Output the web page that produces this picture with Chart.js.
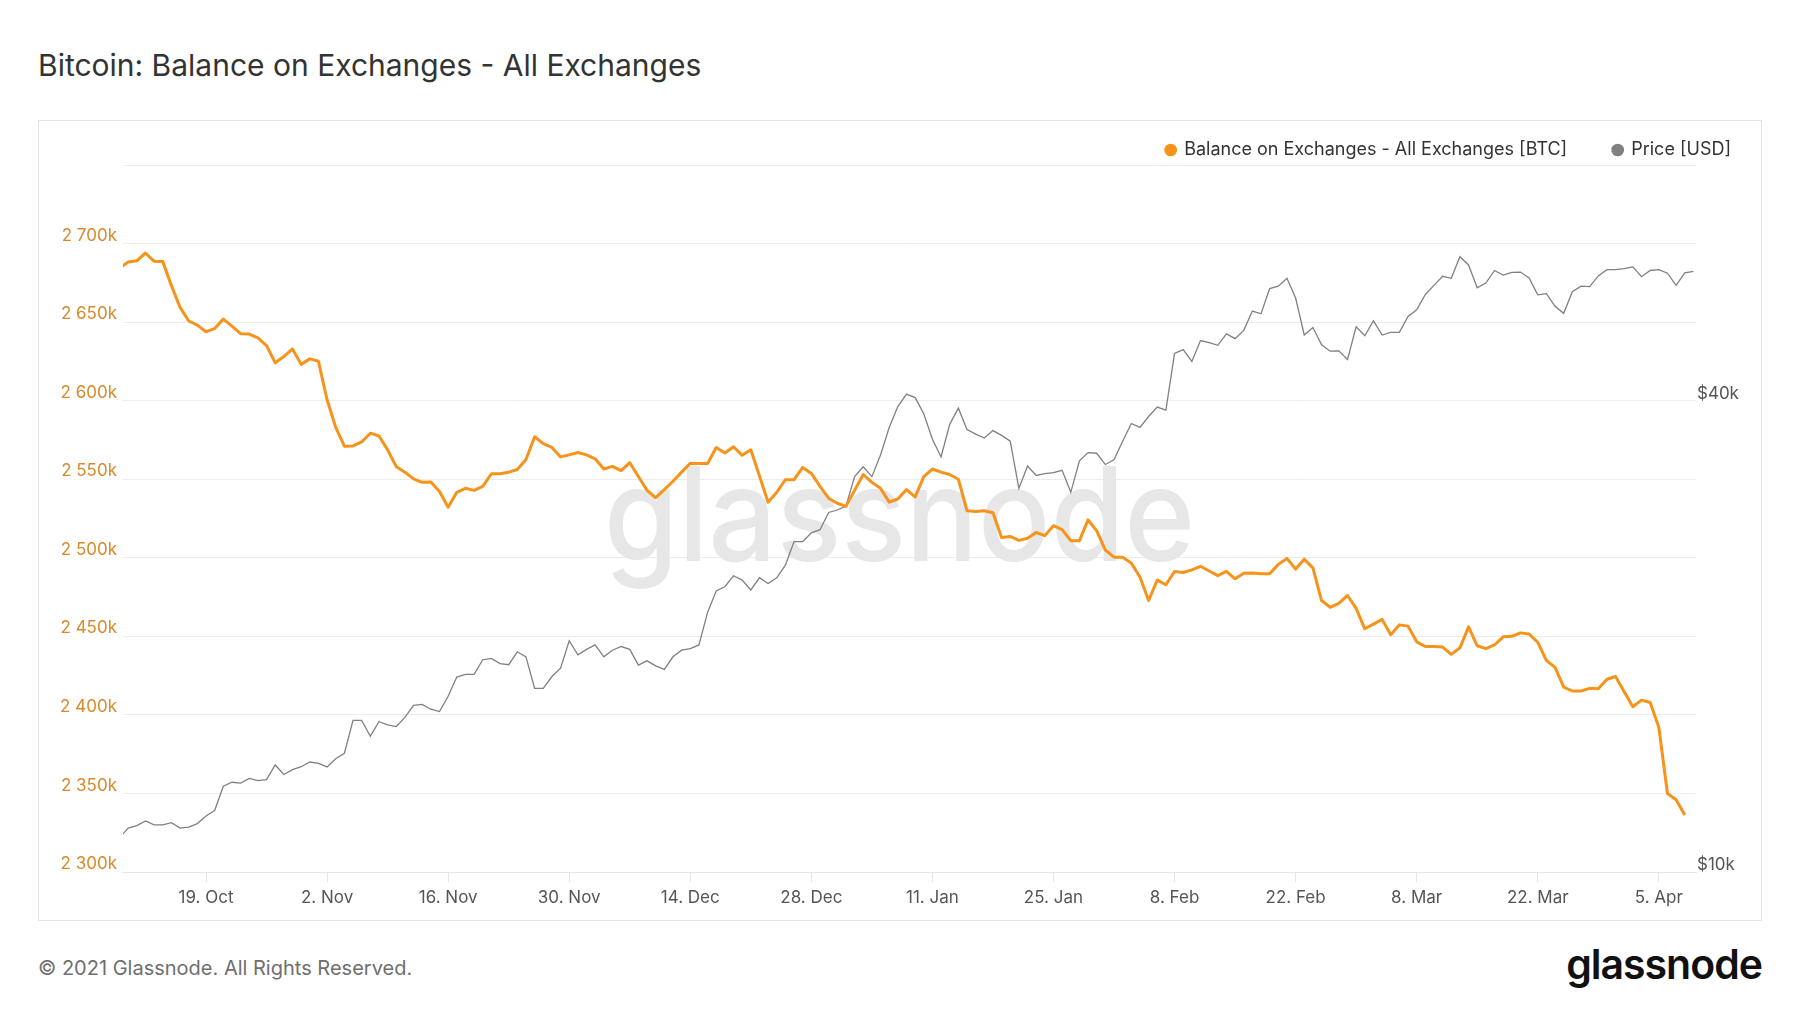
<!DOCTYPE html>
<html>
<head>
<meta charset="utf-8">
<title>Bitcoin: Balance on Exchanges - All Exchanges</title>
<script src="https://cdn.jsdelivr.net/npm/chart.js@4.4.1/dist/chart.umd.min.js"></script>
<style>
  html, body { margin: 0; padding: 0; background: #fff; }
  body { width: 1800px; height: 1013px; position: relative; overflow: hidden; font-family: Inter, 'Noto Sans', sans-serif; }
  #title { position: absolute; left: 38px; top: 46px; font-size: 30px; line-height: 38px; color: #333; }
  #frame { position: absolute; left: 38px; top: 120px; width: 1722px; height: 799px; border: 1px solid #e6e6e6; }
  #wrap { position: absolute; left: 38px; top: 60px; width: 1762px; height: 861px; }
  #footer { position: absolute; left: 38px; top: 956px; font-size: 20px; line-height: 24px; color: #6f6f6f; }
  #logo { position: absolute; right: 38px; top: 944px; font-size: 41px; line-height: 41px; font-weight: 600; color: #111; letter-spacing: -1px; }
</style>
</head>
<body>
<div id="title">Bitcoin: Balance on Exchanges - All Exchanges</div>
<div id="frame"></div>
<div id="wrap"><canvas id="balanceChart" width="1762" height="861"></canvas></div>
<div id="footer">© 2021 Glassnode. All Rights Reserved.</div>
<div id="logo">glassnode</div>

<script>
// Daily values, day 0 = 9 Oct 2020
// Balance on exchanges, thousands of BTC (ends 8 Apr 2021)
const balance = [
  2684.5, 2688.2, 2689.0, 2694.0, 2688.7, 2688.5, 2673.2, 2659.4, 2650.7, 2648.1,
  2643.9, 2645.9, 2651.9, 2647.4, 2642.6, 2642.4, 2639.9, 2635.1, 2624.1, 2628.1,
  2632.9, 2623.1, 2626.6, 2625.1, 2600.6, 2583.0, 2571.0, 2571.2, 2573.7, 2579.3,
  2577.5, 2568.7, 2558.0, 2554.5, 2550.2, 2548.0, 2548.2, 2542.2, 2532.2, 2541.7,
  2544.2, 2542.9, 2545.4, 2553.5, 2553.5, 2554.5, 2556.2, 2562.5, 2577.0, 2572.7,
  2570.2, 2564.2, 2565.5, 2567.0, 2565.5, 2563.0, 2556.5, 2558.2, 2555.5, 2560.5,
  2551.7, 2542.9, 2538.2, 2543.4, 2548.7, 2554.5, 2560.2, 2560.0, 2560.0, 2570.2,
  2566.7, 2570.7, 2565.2, 2568.7, 2552.0, 2535.4, 2541.7, 2549.7, 2549.7, 2557.5,
  2553.7, 2545.4, 2537.9, 2534.7, 2532.7, 2542.9, 2553.0, 2548.0, 2544.2, 2535.4,
  2537.4, 2543.4, 2538.7, 2551.7, 2556.5, 2554.5, 2553.0, 2550.0, 2529.9, 2529.4,
  2529.9, 2528.7, 2512.9, 2513.6, 2511.1, 2512.4, 2516.1, 2514.1, 2520.4, 2517.9,
  2510.9, 2510.9, 2524.1, 2517.1, 2504.9, 2500.4, 2500.4, 2496.6, 2487.8, 2472.8,
  2485.8, 2482.8, 2491.3, 2490.6, 2492.3, 2494.6, 2491.6, 2488.6, 2491.3, 2486.6,
  2490.1, 2490.3, 2489.8, 2489.8, 2495.8, 2499.6, 2492.8, 2499.1, 2493.6, 2472.8,
  2468.5, 2471.0, 2476.0, 2467.8, 2454.8, 2457.8, 2460.8, 2451.0, 2457.3, 2456.5,
  2446.5, 2443.5, 2443.5, 2443.2, 2438.5, 2442.7, 2456.0, 2444.0, 2442.2, 2444.5,
  2449.7, 2450.0, 2452.2, 2451.5, 2446.2, 2434.7, 2430.2, 2417.7, 2415.2, 2415.2,
  2416.9, 2416.7, 2422.7, 2424.4, 2414.7, 2405.2, 2409.4, 2407.9, 2392.1, 2350.0,
  2346.0, 2336.3
];

// BTC price, thousands of USD (ends 9 Apr 2021)
const price = [
  11.06, 11.38, 11.46, 11.62, 11.49, 11.49, 11.56, 11.38, 11.41, 11.53,
  11.79, 11.98, 12.87, 13.02, 12.99, 13.17, 13.08, 13.12, 13.70, 13.32,
  13.51, 13.63, 13.82, 13.76, 13.62, 13.95, 14.18, 15.62, 15.62, 14.91,
  15.56, 15.41, 15.34, 15.76, 16.33, 16.37, 16.14, 16.03, 16.77, 17.74,
  17.88, 17.88, 18.67, 18.74, 18.46, 18.40, 19.11, 18.83, 17.16, 17.16,
  17.77, 18.21, 19.74, 18.94, 19.25, 19.50, 18.83, 19.20, 19.41, 19.25,
  18.38, 18.61, 18.34, 18.15, 18.83, 19.20, 19.29, 19.50, 21.46, 22.85,
  23.14, 23.90, 23.60, 22.93, 23.76, 23.36, 23.76, 24.66, 26.43, 26.43,
  27.12, 27.37, 28.79, 29.00, 29.33, 31.99, 32.93, 31.99, 34.09, 36.97,
  39.31, 40.78, 40.36, 38.49, 35.71, 33.90, 37.31, 39.13, 36.75, 36.25,
  35.83, 36.63, 36.12, 35.50, 30.90, 33.00, 32.10, 32.28, 32.36, 32.59,
  30.55, 33.51, 34.33, 34.27, 33.15, 33.62, 35.50, 37.40, 36.97, 38.18,
  39.26, 38.90, 45.95, 46.49, 44.90, 47.74, 47.46, 47.07, 48.68, 48.01,
  49.19, 52.07, 51.65, 55.63, 56.02, 57.33, 54.10, 48.52, 49.60, 47.13,
  46.27, 46.32, 45.16, 49.71, 48.41, 50.58, 48.52, 48.91, 48.91, 51.23,
  52.25, 54.67, 56.14, 57.66, 57.33, 61.08, 59.62, 55.75, 56.52, 58.66,
  57.86, 58.32, 58.39, 57.39, 54.61, 54.80, 52.80, 51.71, 55.11, 56.02,
  55.95, 57.73, 58.80, 58.80, 59.00, 59.28, 57.60, 58.66, 58.80, 58.19,
  56.14, 58.25, 58.52
];

// x-axis ticks every two weeks (day index from 9 Oct 2020)
const tickDays = [10, 24, 38, 52, 66, 80, 94, 108, 122, 136, 150, 164, 178];
const tickLabels = ['19. Oct', '2. Nov', '16. Nov', '30. Nov', '14. Dec', '28. Dec', '11. Jan',
  '25. Jan', '8. Feb', '22. Feb', '8. Mar', '22. Mar', '5. Apr'];

// Right axis labels (thousands of USD)
const priceTicks = [10, 40];

const ORANGE = '#f7931a';
const GREY = '#808080';

Chart.defaults.font.family = 'Inter, "Noto Sans", sans-serif';

// Faint "glassnode" watermark behind the lines
const watermark = {
    id: 'watermark',
    beforeDatasetsDraw(chart) {
        const { ctx, chartArea } = chart;
        ctx.save();
        ctx.font = '500 130px Inter';
        ctx.fillStyle = '#e7e7e7';
        ctx.textAlign = 'center';
        ctx.textBaseline = 'alphabetic';
        const w = ctx.measureText('glassnode').width;
        ctx.translate((chartArea.left + chartArea.right) / 2 - 10, (chartArea.top + chartArea.bottom) / 2 + 42);
        ctx.scale(591 / w, 1);
        ctx.fillText('glassnode', 0, 0);
        ctx.restore();
    }
};

const ctx = document.getElementById('balanceChart');

new Chart(ctx, {
    type: 'line',
    data: {
        datasets: [
            {
                label: 'Balance on Exchanges - All Exchanges [BTC]',
                data: balance.map((v, i) => ({ x: i, y: v })),
                yAxisID: 'y',
                borderColor: ORANGE,
                backgroundColor: ORANGE,
                borderWidth: 3,
                borderJoinStyle: 'round',
                pointRadius: 0,
                tension: 0
            },
            {
                label: 'Price [USD]',
                data: price.map((v, i) => ({ x: i, y: v })),
                yAxisID: 'price',
                borderColor: GREY,
                backgroundColor: GREY,
                borderWidth: 1.3,
                pointRadius: 0,
                tension: 0
            }
        ]
    },
    options: {
        responsive: false,
        animation: false,
        layout: { padding: { top: 35, right: 23, left: 0, bottom: 0 } },
        plugins: {
            tooltip: { enabled: false },
            legend: {
                position: 'top',
                align: 'end',
                maxHeight: 70,
                labels: {
                    usePointStyle: true,
                    boxWidth: 9,
                    boxHeight: 9,
                    padding: 46,
                    color: '#333',
                    font: { size: 18 },
                    generateLabels(chart) {
                        return Chart.defaults.plugins.legend.labels.generateLabels(chart)
                            .map(item => ({ ...item, lineWidth: 0, pointStyle: 'circle' }));
                    }
                }
            }
        },
        scales: {
            x: {
                type: 'linear',
                min: 0.4,
                max: 182.3,
                afterFit: scale => { scale.height = 49; },
                afterBuildTicks: scale => { scale.ticks = tickDays.map(v => ({ value: v })); },
                grid: { drawOnChartArea: false, drawTicks: true, tickLength: 10, color: '#e6e6e6' },
                border: { display: true, color: '#e6e6e6' },
                ticks: {
                    autoSkip: false,
                    maxRotation: 0,
                    padding: 6,
                    color: '#555',
                    font: { size: 17 },
                    callback: (v, i) => tickLabels[i]
                }
            },
            y: {
                position: 'left',
                min: 2300,
                max: 2750,
                afterFit: scale => { scale.width = 85; },
                grid: { color: '#ececec', drawTicks: false },
                border: { display: false },
                ticks: {
                    stepSize: 50,
                    padding: 6,
                    labelOffset: -8,
                    color: '#d9892a',
                    font: { size: 17 },
                    callback: v => v >= 2750 ? '' : `${Math.floor(v / 1000)} ${String(v % 1000).padStart(3, '0')}k`
                }
            },
            price: {
                type: 'logarithmic',
                position: 'right',
                min: 10,
                max: 80,
                afterFit: scale => { scale.width = 81; },
                afterBuildTicks: scale => { scale.ticks = priceTicks.map(v => ({ value: v })); },
                grid: { display: false, drawTicks: false },
                border: { display: false },
                ticks: {
                    padding: 1,
                    labelOffset: -7,
                    color: '#555',
                    font: { size: 17 },
                    callback: v => '$' + v + 'k'
                }
            }
        }
    },
    plugins: [watermark]
});
</script>
</body>
</html>
